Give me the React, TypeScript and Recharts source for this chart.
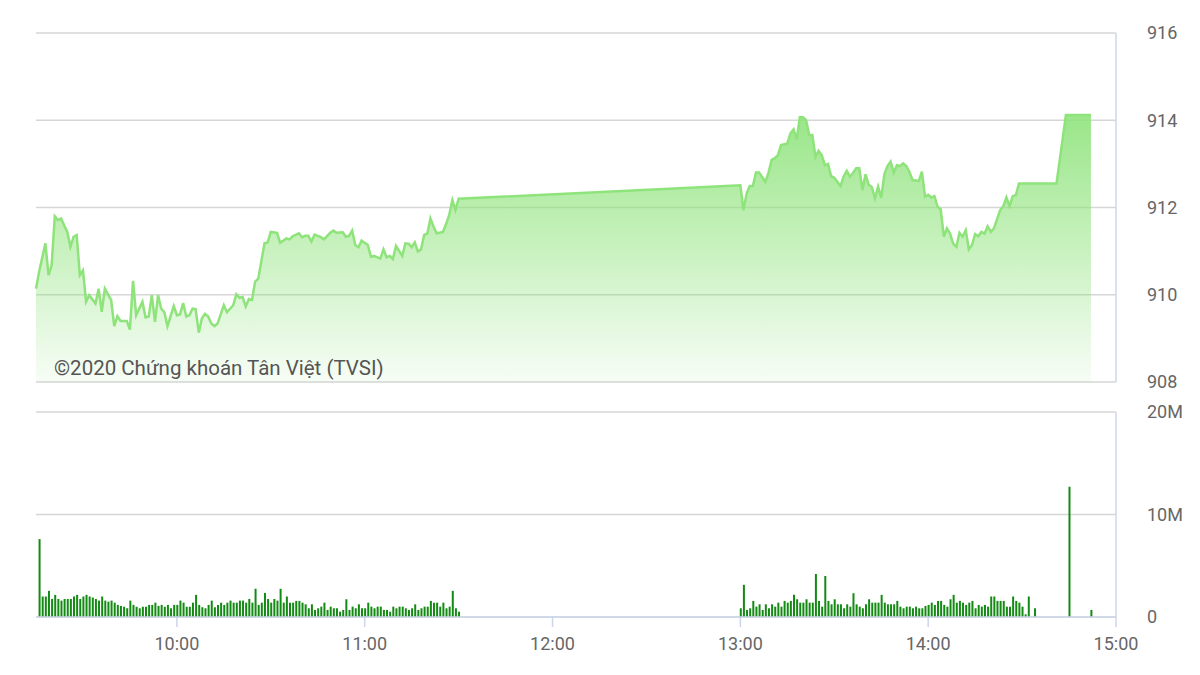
import React from 'react';
import { AreaChart, Area, BarChart, Bar, XAxis, YAxis, CartesianGrid } from 'recharts';

// minutes since midnight
const priceTimes = [
  555, 556, 558, 559, 560, 561, 562, 563, 565, 566, 567, 568, 569, 570, 571, 572, 574, 575, 576, 577,
  579, 580, 581, 582, 584, 585, 586, 587, 589, 590, 591, 592, 593, 594, 595, 596, 597, 599, 600, 601,
  602, 603, 604, 605, 606, 607, 608, 609, 610, 611, 612, 613, 615, 616, 617, 618, 619, 620, 621, 622,
  623, 624, 625, 626, 628, 629, 630, 632, 633, 635, 636, 637, 639, 640, 641, 642, 643, 644, 646, 647,
  649, 650, 651, 653, 654, 655, 656, 657, 658, 659, 661, 662, 663, 665, 666, 667, 668, 669, 670, 672,
  673, 674, 675, 676, 677, 678, 679, 680, 681, 682, 683, 685, 686, 687, 688, 689, 690,
  780, 781, 782, 783, 784, 785, 786, 788, 789, 790, 791, 792, 793, 795, 796, 797, 798, 799, 800, 801,
  802, 803, 804, 805, 806, 807, 808, 809, 810, 812, 813, 814, 815, 816, 817, 818, 819, 820, 821, 822,
  823, 824, 825, 826, 827, 828, 829, 830, 831, 832, 833, 834, 835, 837, 838, 839, 840, 841, 842, 843,
  844, 845, 846, 847, 848, 849, 850, 851, 852, 853, 854, 855, 856, 857, 858, 859, 860, 861, 863, 864,
  865, 866, 867, 868, 869, 881, 884, 892,
];
const priceValues = [
  910.14, 910.53, 911.18, 910.45, 910.68, 911.8, 911.71, 911.75, 911.44, 911.1, 911.33, 911.37, 910.45, 910.56, 909.84, 909.99, 909.8, 910.14, 909.61, 910.14,
  909.88, 909.28, 909.51, 909.4, 909.4, 909.2, 910.32, 909.53, 909.84, 909.48, 909.5, 909.99, 909.38, 909.99, 909.68, 909.6, 909.28, 909.74, 909.53, 909.55,
  909.81, 909.5, 909.53, 909.68, 909.67, 909.13, 909.46, 909.56, 909.5, 909.34, 909.28, 909.34, 909.76, 909.6, 909.68, 909.76, 910.01, 909.93, 909.95, 909.73,
  909.9, 909.88, 910.3, 910.37, 911.18, 911.2, 911.44, 911.42, 911.19, 911.29, 911.27, 911.34, 911.41, 911.32, 911.35, 911.35, 911.22, 911.38, 911.32, 911.27,
  911.42, 911.47, 911.42, 911.43, 911.33, 911.35, 911.47, 911.14, 911.09, 911.24, 911.14, 910.87, 910.89, 910.83, 911.04, 910.86, 910.89, 910.82, 911.12, 910.89,
  911.18, 911.17, 911.09, 911.2, 910.99, 911.04, 911.37, 911.4, 911.75, 911.56, 911.41, 911.44, 911.62, 911.83, 912.17, 911.94, 912.2,
  912.51, 911.94, 912.32, 912.49, 912.49, 912.8, 912.8, 912.59, 912.8, 913.09, 913.13, 913.2, 913.43, 913.47, 913.7, 913.79, 913.56, 914.07, 914.07, 914.0,
  913.66, 913.66, 913.16, 913.3, 913.2, 912.97, 913.0, 912.72, 912.68, 912.49, 912.71, 912.84, 912.71, 912.79, 912.9, 912.9, 912.4, 912.76, 912.52, 912.47,
  912.21, 912.48, 912.22, 912.76, 912.95, 913.05, 912.8, 912.97, 912.95, 913.01, 912.95, 912.82, 912.63, 912.61, 912.82, 912.25, 912.29, 912.23, 912.26, 912.02,
  911.96, 911.33, 911.52, 911.4, 911.17, 911.1, 911.42, 911.33, 911.48, 911.04, 911.14, 911.39, 911.34, 911.44, 911.4, 911.57, 911.44, 911.52, 911.94, 912.03,
  912.23, 912.03, 912.26, 912.28, 912.55, 912.55, 914.12, 914.12,
];

// volume in millions, one bar per minute
const volMorningStart = 556;
const volMorning = [
  7.6, 2.0, 2.0, 2.55, 1.76, 2.16, 1.76, 1.6, 1.76, 1.76,
  1.76, 2.0, 2.16, 1.76, 2.0, 2.16, 2.0, 1.9, 1.76, 1.6,
  2.0, 1.6, 1.5, 1.6, 1.4, 1.18, 1.08, 1.0, 0.85, 1.6,
  1.18, 1.0, 0.85, 1.0, 1.0, 1.18, 1.18, 1.4, 1.08, 1.18,
  1.0, 1.18, 0.85, 1.18, 1.18, 1.6, 1.4, 1.0, 1.0, 1.4,
  2.16, 1.18, 0.95, 0.85, 1.18, 1.6, 0.95, 1.18, 1.4, 1.18,
  1.4, 1.6, 1.4, 1.4, 1.6, 1.6, 1.4, 1.76, 1.4, 2.75,
  1.18, 1.4, 2.35, 1.76, 1.4, 1.76, 1.6, 2.75,
  1.4, 2.0, 1.4, 1.4, 1.57, 1.57, 1.4, 1.24, 0.85, 1.24,
  0.69, 0.85, 1.01, 1.4, 0.69, 1.01, 0.85, 0.85, 0.52, 0.69,
  1.73, 0.69, 1.01, 0.85, 1.24, 0.85, 0.85, 1.4, 1.01, 0.85,
  1.01, 1.01, 0.69, 0.69, 0.52, 1.01, 0.85, 1.01, 1.01, 0.85,
  0.69, 0.85, 1.24, 0.69, 0.85, 1.01, 1.01, 1.57, 1.4, 1.4,
  1.01, 1.4, 0.85, 1.01, 2.55, 0.85, 0.52,
];
const volAfternoonStart = 780;
const volAfternoon = [
  0.85, 3.14, 0.69, 0.85, 1.57, 1.01, 1.24, 0.69, 1.24, 0.85,
  1.24, 1.01, 1.4, 1.01, 1.57, 1.4, 1.57, 2.16, 1.73, 1.4,
  1.4, 1.73, 1.4, 1.4, 4.2, 1.57, 1.01, 4.0, 1.57, 1.24,
  1.73, 1.24, 1.24, 0.85, 1.24, 1.01, 2.32, 1.24, 1.01, 0.85,
  1.24, 1.73, 1.4, 1.4, 1.4, 2.16, 1.4, 1.24, 1.24, 1.24,
  1.57, 1.01, 0.85, 1.01, 1.01, 0.85, 1.01, 0.85,
  0.85, 1.08, 1.18, 1.4, 1.18, 1.57, 1.57, 1.18, 1.01, 1.73,
  2.16, 1.4, 1.57, 1.4, 1.18, 1.4, 1.57, 0.85, 1.18, 1.01,
  1.18, 1.01, 2.0, 2.0, 1.57, 1.57, 1.57, 1.01, 1.01, 2.0,
  1.57, 1.4, 1.01,
];
const volLateTimes = [871, 872, 874, 885, 892];
const volLateValues = [0.26, 2.0, 0.85, 12.7, 0.69];

const timeTicks = [600, 660, 720, 780, 840, 900];
const priceTicks = [908, 910, 912, 914, 916];
const volTicks = [0, 10, 20];

const priceData = priceTimes.map((t, i) => ({ t, p: priceValues[i] }));
const volData = [
  ...volMorning.map((v, i) => ({ t: volMorningStart + i, v })),
  ...volAfternoon.map((v, i) => ({ t: volAfternoonStart + i, v })),
  ...volLateTimes.map((t, i) => ({ t, v: volLateValues[i] })),
];

const FONT = 'Roboto, "Noto Sans", sans-serif';
const tickStyle = { fill: '#666666', fontSize: 18, fontFamily: FONT };
const fmtTime = (m: number) => `${Math.floor(m / 60)}:${String(m % 60).padStart(2, '0')}`;
const fmtVol = (v: number) => (v === 0 ? '0' : `${v}M`);

export default function App() {
  return (
    <div style={{ position: 'absolute', left: 0, top: 0, width: 1200, height: 675, background: '#ffffff', overflow: 'hidden' }}>
      <div style={{ position: 'absolute', left: 0, top: 0 }}>
        <AreaChart width={1200} height={400} data={priceData} margin={{ top: 33, right: 24, bottom: 18, left: 36 }}>
          <defs>
            <linearGradient id="priceFill" x1="0" y1="0" x2="0" y2="1">
              <stop offset="0%" stopColor="#8ee37b" stopOpacity={0.9} />
              <stop offset="100%" stopColor="#8ee37b" stopOpacity={0.07} />
            </linearGradient>
          </defs>
          <CartesianGrid vertical={false} stroke="#d6d6d6" strokeWidth={1.5} />
          <XAxis dataKey="t" type="number" domain={[555, 900]} ticks={timeTicks} hide />
          <YAxis
            orientation="right"
            domain={[908, 916]}
            ticks={priceTicks}
            width={60}
            tickLine={false}
            tickMargin={25}
            axisLine={{ stroke: '#ccd6eb', strokeWidth: 1.5 }}
            tick={tickStyle}
            allowDataOverflow
          />
          <Area
            type="linear"
            dataKey="p"
            stroke="#8ee37b"
            strokeWidth={2.5}
            fill="url(#priceFill)"
            fillOpacity={1}
            isAnimationActive={false}
            dot={false}
            activeDot={false}
          />
        </AreaChart>
      </div>
      <div style={{ position: 'absolute', left: 0, top: 400 }}>
        <BarChart width={1200} height={275} data={volData} margin={{ top: 12, right: 24, bottom: 18, left: 36 }} barCategoryGap={0}>
          <CartesianGrid vertical={false} stroke="#d6d6d6" strokeWidth={1.5} />
          <XAxis
            dataKey="t"
            type="number"
            domain={[555, 900]}
            ticks={timeTicks}
            tickFormatter={fmtTime}
            height={40}
            tickSize={10}
            tickMargin={10}
            axisLine={{ stroke: '#ccd6eb', strokeWidth: 1.5 }}
            tickLine={{ stroke: '#ccd6eb', strokeWidth: 1.5 }}
            tick={tickStyle}
            allowDataOverflow
            interval={0}
          />
          <YAxis
            orientation="right"
            domain={[0, 20]}
            ticks={volTicks}
            tickFormatter={fmtVol}
            width={60}
            tickLine={false}
            tickMargin={25}
            axisLine={{ stroke: '#ccd6eb', strokeWidth: 1.5 }}
            tick={tickStyle}
          />
          <Bar dataKey="v" fill="#138a13" barSize={2} isAnimationActive={false} />
        </BarChart>
      </div>
      <div
        style={{
          position: 'absolute',
          left: 54,
          top: 356,
          fontFamily: FONT,
          fontSize: 20.5,
          color: '#555555',
          whiteSpace: 'nowrap',
          lineHeight: '24px',
        }}
      >
        ©2020 Chứng khoán Tân Việt (TVSI)
      </div>
    </div>
  );
}
